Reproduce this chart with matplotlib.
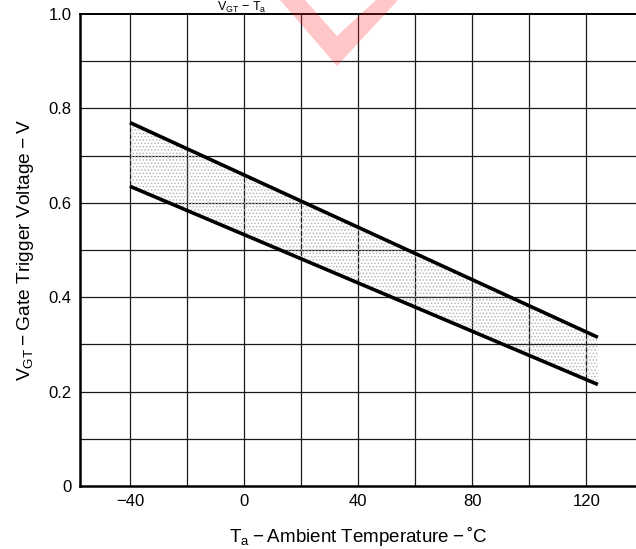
import matplotlib
matplotlib.use("Agg")
import matplotlib.pyplot as plt
from matplotlib.patches import Polygon
import numpy as np

# Data
temp_ends = [-40, 124]          # Ta (°C) at line ends
upper_vgt = [0.77, 0.315]       # upper bound VGT (V)
lower_vgt = [0.635, 0.215]      # lower bound VGT (V)
xticks = [-40, 0, 40, 80, 120]
xtick_labels = ["\u221240", "0", "40", "80", "120"]
yticks = [0, 0.2, 0.4, 0.6, 0.8, 1.0]
ytick_labels = ["0", "0.2", "0.4", "0.6", "0.8", "1.0"]

plt.rcParams['font.family'] = ['Liberation Sans', 'DejaVu Sans']
plt.rcParams['hatch.linewidth'] = 0.7

W, H = 636, 549
fig = plt.figure(figsize=(W/100, H/100), dpi=100)
ax = fig.add_axes([80/W, 1-486/H, (W-80)/W + 0.002, (486-14)/H])

ax.set_xlim(-57.5, 137.8)
ax.set_ylim(0, 1.0)

# grid
for gx in np.arange(-40, 140, 20):
    ax.axvline(gx, color='#1a1a1a', lw=0.9, zorder=1)
for gy in np.arange(0.1, 1.0, 0.1):
    ax.axhline(gy, color='#1a1a1a', lw=0.9, zorder=1)

t = np.array(temp_ends, dtype=float)
ax.fill_between(t, lower_vgt, upper_vgt, facecolor='none', hatch='.....',
                edgecolor='#b8b8b8', linewidth=0, zorder=2)
ax.plot(t, upper_vgt, color='black', lw=2.6, solid_capstyle='butt', zorder=3)
ax.plot(t, lower_vgt, color='black', lw=2.6, solid_capstyle='butt', zorder=3)

ax.set_xticks(xticks)
ax.set_xticklabels(xtick_labels, fontsize=12)
ax.set_yticks(yticks)
ax.set_yticklabels(ytick_labels, fontsize=12)
ax.tick_params(length=0, pad=6)

for s in ['left', 'bottom']:
    ax.spines[s].set_linewidth(1.8)
ax.spines['top'].set_linewidth(1.4)
ax.spines['right'].set_visible(False)

ax.set_xlabel("T$_\\mathregular{a}$\u2009\u2212\u2009Ambient Temperature\u2009\u2212\u2009\u02daC",
              fontsize=13.5, labelpad=11)
ax.set_ylabel("V$_\\mathregular{GT}$\u2009\u2212\u2009Gate Trigger Voltage\u2009\u2212\u2009V",
              fontsize=13.8, labelpad=9)

# title at the top edge (cut in the reference)
fig.text(242/W, 1.0, "V$_\\mathregular{GT}$ \u2212 T$_\\mathregular{a}$",
         fontsize=9, ha='center', va='top')

# watermark check mark
pts = [(280, 0), (337, 66), (398, 0), (376, 0), (337, 36), (305, 0)]
poly = Polygon([(x/W, 1-y/H) for x, y in pts], closed=True,
               transform=fig.transFigure, facecolor='#ff2020', alpha=0.25,
               edgecolor='none', zorder=10)
fig.patches.append(poly)

fig.savefig("out.png", dpi=100)
